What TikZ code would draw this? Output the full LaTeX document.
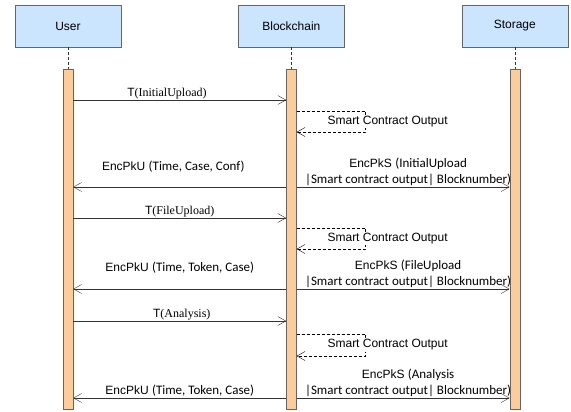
\documentclass[tikz,border=0pt]{standalone}
\usepackage{fontspec}
\setmainfont{Liberation Sans}
\newfontfamily\tnr{Liberation Serif}
\newfontfamily\carl{Carlito}
\usepackage{tikz}
\usetikzlibrary{arrows.meta,positioning}
\definecolor{headblue}{HTML}{CCE5FF}
\definecolor{barorange}{HTML}{FFCC99}
\definecolor{edgegray}{HTML}{666666}
\definecolor{linegray}{HTML}{333333}
\newcommand{\tx}[1]{{\tnr #1}}
\newcommand{\cb}[1]{{\carl\fontsize{13}{16}\selectfont #1}}

\begin{document}
\begin{tikzpicture}[x=1pt, y=1pt, >={Straight Barb[length=8pt,width=9pt]},
    font=\fontsize{12}{16}\selectfont,
    actor/.style={draw=edgegray, fill=headblue, minimum width=106pt, minimum height=42pt, inner sep=0pt},
    bar/.style={draw=edgegray, fill=barorange, minimum width=10pt, minimum height=340pt, inner sep=0pt},
    life/.style={draw=linegray, dashed, dash pattern=on 3pt off 2pt},
    msg/.style={draw=linegray, ->},
    ret/.style={draw=black, ->, dash pattern=on 3pt off 2pt},
    lbl/.style={inner sep=1pt},
    note/.style={fill=white, inner sep=1.5pt}]
  \useasboundingbox (0,0) rectangle (571,-412);
  % lifelines
  \node (user) [actor] at (68,-26) {User};
  \node (chain) [actor, right=117pt of user] {Blockchain};
  \node (store) [actor, right=117pt of chain] {Storage};
  \node (ubar) [bar, below=22pt of user] {};
  \node (cbar) [bar, below=22pt of chain] {};
  \node (sbar) [bar, below=22pt of store] {};
  \draw[life] (user) -- (ubar);
  \draw[life] (chain) -- (cbar);
  \draw[life] (store) -- (sbar);
  % message rows
  \coordinate (m1) at (0,-100);
  \coordinate (s1) at (0,-111);
  \coordinate (e1) at (0,-187);
  \coordinate (m2) at (0,-218);
  \coordinate (s2) at (0,-228);
  \coordinate (e2) at (0,-289);
  \coordinate (m3) at (0,-321);
  \coordinate (s3) at (0,-334);
  \coordinate (e3) at (0,-398);
  % InitialUpload
  \draw[msg] (ubar.east |- m1) -- node[lbl, above, pos=0.44] {T\tx{(InitialUpload)}} (cbar.west |- m1);
  \draw[ret] (cbar.east |- s1) -- ++(69,0) -- node[note, xshift=22pt] {Smart Contract Output} ++(0,-21) -- ++(-69,0);
  \draw[msg] (cbar.west |- e1) -- node[lbl, above=13pt, pos=0.53] {EncPkU \cb{(Time, Case, Conf)}} (ubar.east |- e1);
  \draw[msg] (cbar.east |- e1) -- node[lbl, above, xshift=5pt, align=center] {EncPkS \cb{(InitialUpload}\\ \cb{|Smart contract output|\ Blocknumber)}} (sbar.west |- e1);
  % FileUpload
  \draw[msg] (ubar.east |- m2) -- node[lbl, above, pos=0.5] {T\tx{(FileUpload)}} (cbar.west |- m2);
  \draw[ret] (cbar.east |- s2) -- ++(69,0) -- node[note, xshift=22pt] {Smart Contract Output} ++(0,-21) -- ++(-69,0);
  \draw[msg] (cbar.west |- e2) -- node[lbl, above=14pt, pos=0.5] {EncPkU \cb{(Time, Token, Case)}} (ubar.east |- e2);
  \draw[msg] (cbar.east |- e2) -- node[lbl, above, xshift=5pt, align=center] {EncPkS \cb{(FileUpload}\\ \cb{|Smart contract output|\ Blocknumber)}} (sbar.west |- e2);
  % Analysis
  \draw[msg] (ubar.east |- m3) -- node[lbl, above, pos=0.51] {T\tx{(Analysis)}} (cbar.west |- m3);
  \draw[ret] (cbar.east |- s3) -- ++(69,0) -- node[note, xshift=22pt] {Smart Contract Output} ++(0,-22) -- ++(-69,0);
  \draw[msg] (cbar.west |- e3) -- node[lbl, above, pos=0.5] {EncPkU \cb{(Time, Token, Case)}} (ubar.east |- e3);
  \draw[msg] (cbar.east |- e3) -- node[lbl, above, xshift=5pt, align=center] {EncPkS \cb{(Analysis}\\ \cb{|Smart contract output|\ Blocknumber)}} (sbar.west |- e3);
\end{tikzpicture}
\end{document}
